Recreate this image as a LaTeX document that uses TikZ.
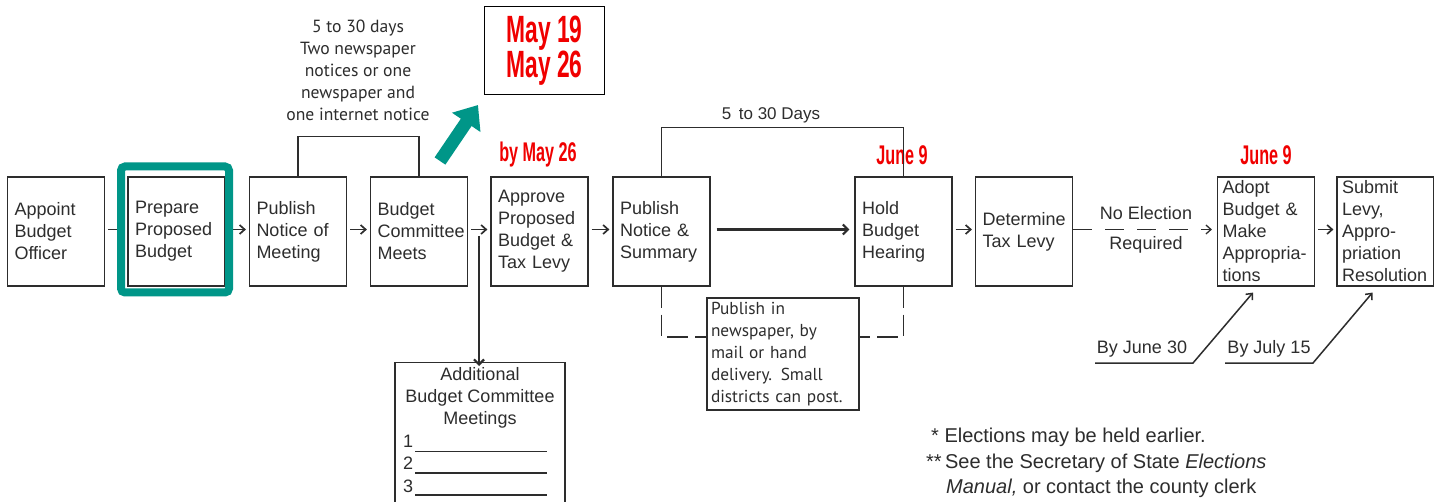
\documentclass[tikz,border=0pt]{standalone}
\usepackage{fontspec}
\usepackage{graphicx}
\setmainfont{Liberation Sans}
\newfontfamily\pts{PT Sans}
\usetikzlibrary{arrows.meta}
\definecolor{tealc}{RGB}{0,150,136}
\definecolor{redc}{RGB}{240,0,0}
\definecolor{ink}{RGB}{45,45,45}
\newcommand{\cnd}[2]{\scalebox{0.6}[1]{\fontsize{#1}{#1}\selectfont\bfseries #2}}
\begin{document}
\begin{tikzpicture}[x=1pt,y=-1pt,
  every node/.style={text=ink},
  box/.style={draw=ink, line width=1.2pt, minimum width=97pt, minimum height=109pt,
    text width=83pt, inner xsep=7pt, inner ysep=0pt, align=left,
    font=\fontsize{18}{22}\selectfont},
  sarrow/.style={draw=ink, line width=1.7pt, -{Straight Barb[length=5pt,width=9pt]}},
  larrow/.style={draw=ink, line width=2.2pt, -{Straight Barb[length=5pt,width=10pt]}},
  lbl/.style={font=\fontsize{18}{22}\selectfont, inner sep=0pt},
  redlbl/.style={text=redc, inner sep=0pt},
  bracket/.style={draw=ink, line width=1.2pt},
  dbracket/.style={draw=ink, line width=1.2pt, dash pattern=on 21pt off 7pt}
]
\useasboundingbox (0,0) rectangle (1434,502);
\fill[white] (0,0) rectangle (1434,502);

% main boxes
\node[box] (b1) at (56,231.5) {Appoint\\Budget\\Officer};
\node[box] (b2) at (176.5,231.5) {Prepare\\Proposed\\Budget};
\node[box] (b3) at (298,231.5) {Publish\\Notice of\\Meeting};
\node[box] (b4) at (419,231.5) {Budget\\Committee\\Meets};
\node[box] (b5) at (539.5,231.5) {Approve\\Proposed\\Budget \&\\Tax Levy};
\node[box] (b6) at (661.5,231.5) {Publish\\Notice \&\\Summary};
\node[box] (b7) at (903.5,231.5) {Hold\\Budget\\Hearing};
\node[box] (b8) at (1024,231.5) {Determine\\Tax Levy};
\node[box, inner xsep=5pt, text width=87pt] (b9) at (1266,231.5) {Adopt\\Budget \&\\Make\\Appropria-\\tions};
\node[box, inner xsep=5pt, text width=87pt] (b10) at (1385.5,231.5) {Submit\\Levy,\\Appro-\\priation\\Resolution};

% small arrows
\draw[sarrow] ([xshift=3pt,yshift=2pt]b1.east) -- ([xshift=-3pt,yshift=2pt]b2.west);
\draw[sarrow] ([xshift=3pt,yshift=2pt]b2.east) -- ([xshift=-3pt,yshift=2pt]b3.west);
\draw[sarrow] ([xshift=3pt,yshift=2pt]b3.east) -- ([xshift=-3pt,yshift=2pt]b4.west);
\draw[sarrow] ([xshift=3pt,yshift=2pt]b4.east) -- ([xshift=-3pt,yshift=2pt]b5.west);
\draw[sarrow] ([xshift=3pt,yshift=2pt]b5.east) -- ([xshift=-3pt,yshift=2pt]b6.west);
\draw[larrow] ([xshift=6pt,yshift=2pt]b6.east) -- ([xshift=-5pt,yshift=2pt]b7.west);
\draw[sarrow] ([xshift=3pt,yshift=2pt]b7.east) -- ([xshift=-3pt,yshift=2pt]b8.west);
\draw[sarrow] ([xshift=3pt,yshift=2pt]b9.east) -- ([xshift=-3pt,yshift=2pt]b10.west);
\draw[draw=ink, line width=1.3pt, dash pattern=on 19pt off 13pt, -{Straight Barb[length=5pt,width=9pt]}]
  ([yshift=2pt]b8.east) -- ([xshift=-5pt,yshift=2pt]b9.west);
\node[lbl] (noel) at (1146,213) {No Election};
\node[lbl] (req) at (1146,245) {Required};

% teal highlight frame
\node[draw=tealc, line width=8pt, rounded corners=4pt, minimum width=108pt, minimum height=126pt, inner sep=0pt] (hl) at (175,229.5) {};

% bracket above 3-4
\draw[bracket] (b3.north) -- ++(0,-40) -| (b4.north);
\node[font=\pts\fontsize{17.6}{22}\selectfont, align=center, inner sep=0pt] (top1) at (358,70)
  {5 to 30 days\\Two newspaper\\notices or one\\newspaper and\\one internet notice};

% red box
\node[draw=black, line width=1.5pt, minimum width=120pt, minimum height=88pt, align=center, inner sep=0pt, text=redc,
  font=\fontsize{38}{34}\selectfont] (rb) at (544.5,50.5)
  {\cnd{38}{May 19}\\\cnd{38}{May 26}};
% teal arrow
\coordinate (ta) at (440,161);
\draw[tealc, line width=13pt, -{Triangle[length=21pt,width=33pt]}] (ta) -- (478,105);

\node[redlbl] (r1) at (538,155) {\cnd{27}{by May 26}};
\node[redlbl] (r2) at (902,155) {\cnd{27}{June 9}};
\node[redlbl] (r3) at (1266,155) {\cnd{27}{June 9}};

% bracket above 6-7
\draw[bracket] (b6.north) -- ++(0,-49) -| (b7.north);
\node[font=\fontsize{17}{20}\selectfont, inner sep=0pt] (d530) at (771,115) {5\, to 30 Days};

% publish box + dashed bracket
\node[draw=ink, line width=1.2pt, minimum width=152pt, minimum height=112pt, text width=144pt, inner xsep=4pt, inner ysep=0pt, align=left,
  font=\pts\fontsize{17.3}{22}\selectfont] (pub) at (783,354)
  {Publish in\\newspaper, by\\mail or hand\\delivery. Small\\districts can post.};
\draw[dbracket] (b6.south) |- (pub.west |- 0,337);
\draw[dbracket] (b7.south) |- (pub.east |- 0,337);

% additional meetings box
\coordinate (c45) at (479,236);
\node[draw=ink, line width=1.2pt, minimum width=170pt, minimum height=160pt, anchor=north, inner sep=0pt] (add) at (480,362) {};
\draw[larrow] (c45) -- ([xshift=-1pt,yshift=-4pt]add.north);
\node[font=\fontsize{18}{22}\selectfont, align=center, anchor=north, inner sep=0pt] (addt) at (480,367)
  {Additional\\Budget Committee\\Meetings};
\node[lbl, font=\fontsize{18}{20}\selectfont] (n1) at (408,441) {1};
\node[lbl, font=\fontsize{18}{20}\selectfont] (n2) at (408,463) {2};
\node[lbl, font=\fontsize{18}{20}\selectfont] (n3) at (408,486) {3};
\draw[ink, line width=1pt] (415,451) -- (547,451);
\draw[ink, line width=1.8pt] (415,473) -- (547,473);
\draw[ink, line width=1.8pt] (415,495) -- (547,495);

% deadline arrows
\coordinate (j30) at (1095,363);
\coordinate (j15) at (1225,363);
\draw[sarrow, line width=1.5pt] (j30) -- ++(98,0) -- ([xshift=-13pt,yshift=-6pt]b9.south);
\draw[sarrow, line width=1.5pt] (j15) -- ++(88,0) -- ([xshift=-13pt,yshift=-6pt]b10.south);
\node[lbl] (by30) at (1142,349) {By June 30};
\node[lbl] (by15) at (1269,349) {By July 15};

% footnotes
\node[lbl, font=\fontsize{20}{25}\selectfont, anchor=west] (f1) at (931,437) {*\;Elections may be held earlier.};
\node[lbl, font=\fontsize{20}{25}\selectfont, anchor=west] (f2) at (926,463) {**\,See the Secretary of State \textit{Elections}};
\node[lbl, font=\fontsize{20}{25}\selectfont, anchor=west] (f3) at (946,488) {\textit{Manual,} or contact the county clerk};
\end{tikzpicture}
\end{document}
